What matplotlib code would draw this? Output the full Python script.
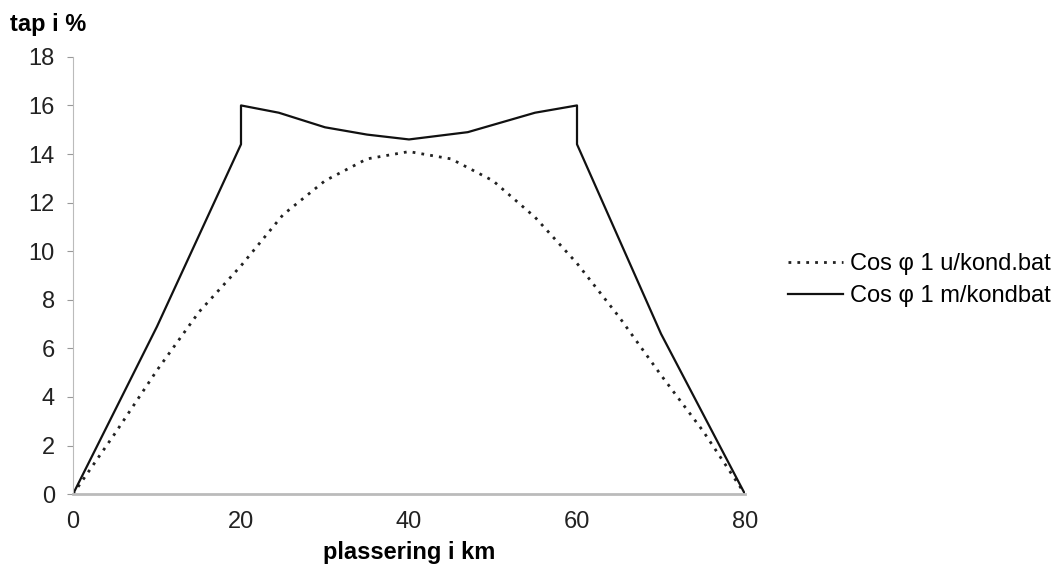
import numpy as np
import matplotlib.pyplot as plt

plt.rcParams['font.family'] = ['Liberation Sans', 'DejaVu Sans']

# data
x_uten = [0, 5, 10, 15, 20, 25, 30, 35, 40, 45, 50, 55, 60, 65, 70, 75, 80]
y_uten = [0, 2.5, 5.1, 7.5, 9.4, 11.5, 12.9, 13.8, 14.1, 13.8, 12.9, 11.4, 9.5, 7.3, 4.9, 2.6, 0]

x_med = [0, 10, 20, 20, 24.5, 30, 35, 40, 47, 55, 60, 60, 70, 80]
y_med = [0, 6.9, 14.4, 16.0, 15.7, 15.1, 14.8, 14.6, 14.9, 15.7, 16.0, 14.4, 6.6, 0]

labels = ["Cos \u03c6 1 u/kond.bat", "Cos \u03c6 1 m/kondbat"]

fs = 17

fig = plt.figure(figsize=(10.64, 5.8), dpi=100)
ax = fig.add_axes([0.0686, 0.148, 0.6316, 0.754])

ax.plot(x_uten, y_uten, color='#222222', lw=2.0, linestyle=(0, (1, 2.2)), label=labels[0])
ax.plot(x_med, y_med, color='#111111', lw=1.6, label=labels[1])

ax.set_xlim(0, 80)
ax.set_ylim(0, 18)
ax.set_xticks([0, 20, 40, 60, 80])
ax.set_yticks(np.arange(0, 19, 2))

for s in ['top', 'right']:
    ax.spines[s].set_visible(False)
ax.spines['left'].set_color('#bbbbbb')
ax.spines['left'].set_linewidth(0.8)
ax.spines['bottom'].set_color('#bbbbbb')
ax.spines['bottom'].set_linewidth(2)

ax.tick_params(axis='y', length=4, color='#999999', labelsize=fs, pad=9, labelcolor='#222222')
ax.tick_params(axis='x', length=0, labelsize=fs, pad=12, labelcolor='#222222')

ax.set_xlabel("plassering i km", fontsize=fs, fontweight='bold', labelpad=6)
fig.text(0.009, 0.957, "tap i %", fontsize=fs, fontweight='bold', va='center')

fig.legend(loc='center left', bbox_to_anchor=(0.721, 0.517), frameon=False,
           fontsize=fs, handlelength=2.3, handletextpad=0.3, labelspacing=0.45)

fig.savefig("out.png", dpi=100)
